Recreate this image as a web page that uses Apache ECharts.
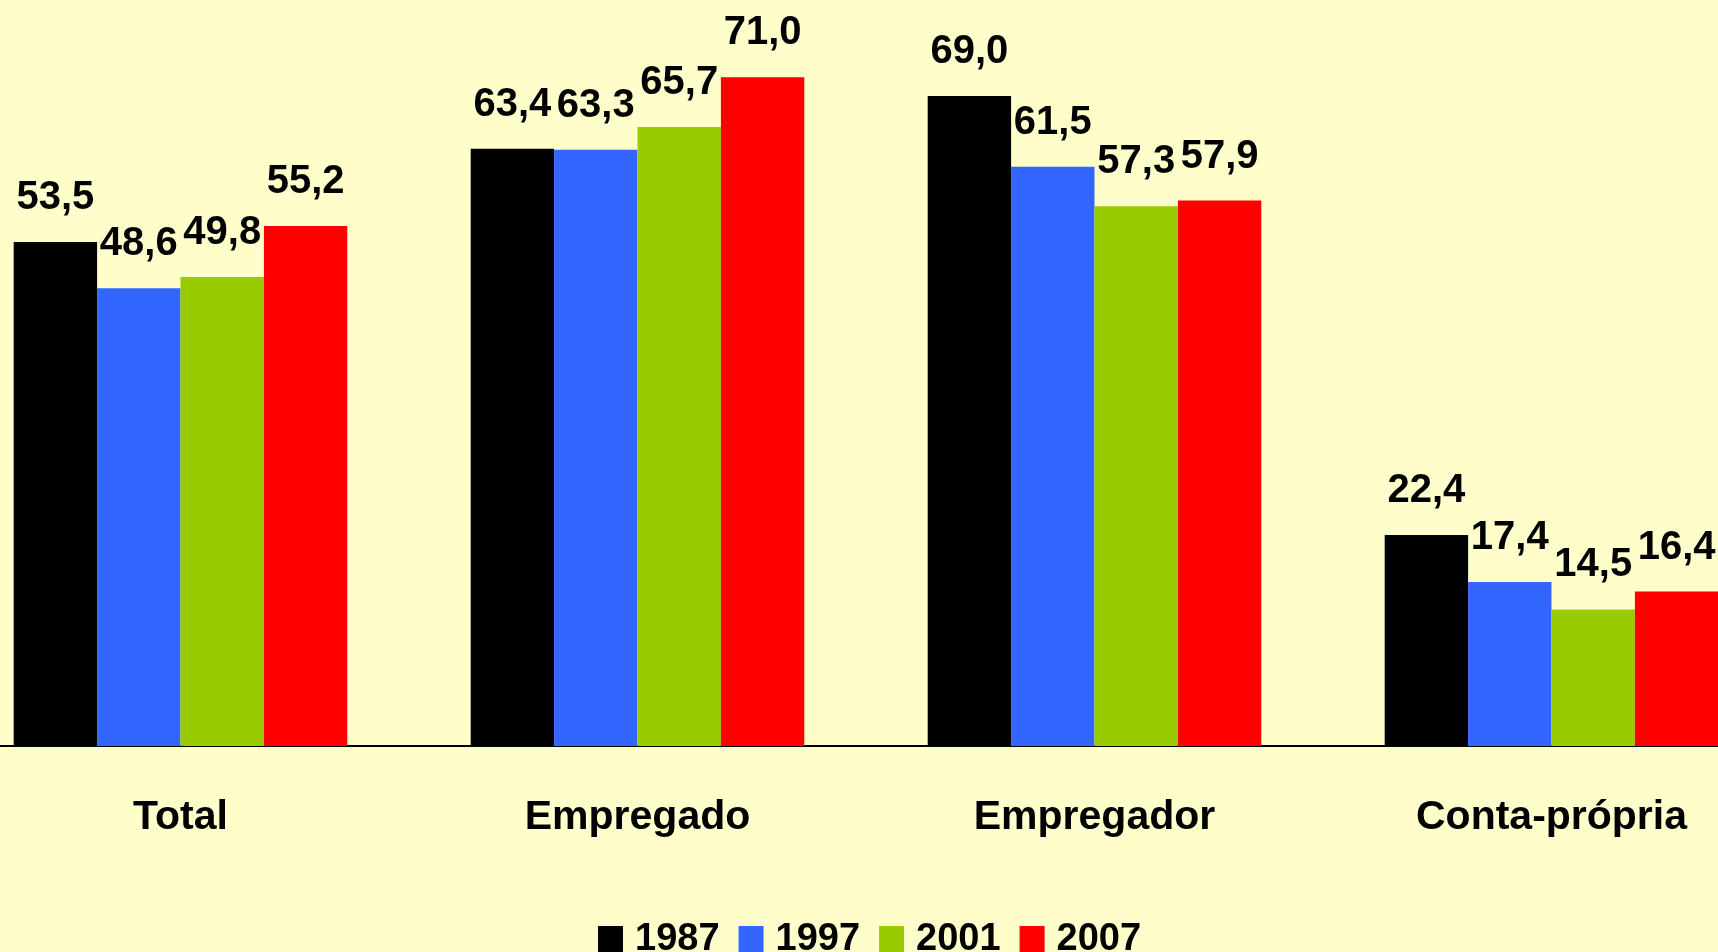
<!DOCTYPE html>
<html>
<head>
<meta charset="utf-8">
<style>
html,body{margin:0;padding:0;background:#FFFFCC;}
#chart{width:1718px;height:952px;}
</style>
<script src="https://cdn.jsdelivr.net/npm/echarts@6/dist/echarts.min.js"></script>
</head>
<body>
<div id="chart"></div>
<script>
const categories = ['Total', 'Empregado', 'Empregador', 'Conta-própria'];
const seriesNames = ['1987', '1997', '2001', '2007'];
const v1987 = [53.5, 63.4, 69.0, 22.4];
const v1997 = [48.6, 63.3, 61.5, 17.4];
const v2001 = [49.8, 65.7, 57.3, 14.5];
const v2007 = [55.2, 71.0, 57.9, 16.4];
const colors = ['#000000', '#3366FF', '#99CC00', '#FF0000'];

const values = [v1987, v1997, v2001, v2007];
const font = '"Liberation Sans", Arial, sans-serif';
const chart = echarts.init(document.getElementById('chart'), null, {renderer: 'canvas'});
chart.setOption({
  backgroundColor: '#FFFFCC',
  animation: false,
  grid: {left: -48, width: 1828, top: 39.5, bottom: 206, containLabel: false, outerBoundsMode: 'none'},
  legend: {
    data: seriesNames,
    left: 598,
    top: 921,
    padding: 0,
    itemWidth: 25,
    itemHeight: 28,
    itemGap: 19,
    icon: 'rect',
    textStyle: {fontFamily: font, fontWeight: 'bold', fontSize: 38, color: '#000', padding: [0, 0, 0, 7]}
  },
  xAxis: {
    type: 'category',
    data: categories,
    axisLine: {show: true, lineStyle: {color: '#000', width: 2}},
    axisTick: {show: false},
    axisLabel: {margin: 51, fontFamily: font, fontWeight: 'bold', fontSize: 41, color: '#000'}
  },
  yAxis: {
    type: 'value', min: 0, max: 75, show: false,
    splitLine: {show: false}
  },
  series: seriesNames.map((n, i) => ({
    name: n,
    type: 'bar',
    data: values[i],
    barGap: '0%',
    barCategoryGap: '27%',
    itemStyle: {color: colors[i]},
    label: {
      show: true, position: 'top', distance: 24,
      formatter: p => p.value.toFixed(1).replace('.', ','),
      fontFamily: font, fontWeight: 'bold', fontSize: 40, color: '#000'
    }
  }))
});
</script>
</body>
</html>
